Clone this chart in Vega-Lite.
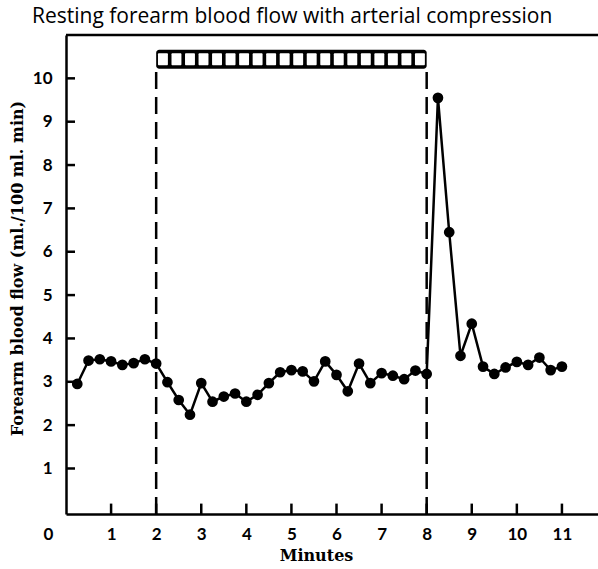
{
  "$schema": "https://vega.github.io/schema/vega-lite/v6.json",
  "width": 532,
  "height": 479,
  "autosize": "none",
  "padding": {"left": 66, "top": 35, "right": 0, "bottom": 55},
  "title": {"text": "Resting forearm blood flow with arterial compression", "anchor": "start", "frame": "group", "dx": -34, "offset": 7, "font": "Open Sans", "fontSize": 21, "fontWeight": "normal", "color": "black"},
  "config": {
    "view": {"stroke": null},
    "axis": {"domainColor": "black", "domainWidth": 2.5, "ticks": false, "grid": false, "labelFont": "Lato", "labelFontSize": 17, "labelFontWeight": "bold", "labelColor": "black", "titleFont": "DejaVu Serif", "titleFontSize": 16, "titleFontWeight": "bold", "titleColor": "black"}
  },
  "datasets": {
    "flow": [
      {"minute": 0.25, "flow": 2.95}, {"minute": 0.5, "flow": 3.49}, {"minute": 0.75, "flow": 3.52}, {"minute": 1.0, "flow": 3.47},
      {"minute": 1.25, "flow": 3.39}, {"minute": 1.5, "flow": 3.43}, {"minute": 1.75, "flow": 3.52}, {"minute": 2.0, "flow": 3.42},
      {"minute": 2.25, "flow": 2.99}, {"minute": 2.5, "flow": 2.58}, {"minute": 2.75, "flow": 2.24}, {"minute": 3.0, "flow": 2.97},
      {"minute": 3.25, "flow": 2.54}, {"minute": 3.5, "flow": 2.66}, {"minute": 3.75, "flow": 2.73}, {"minute": 4.0, "flow": 2.54},
      {"minute": 4.25, "flow": 2.70}, {"minute": 4.5, "flow": 2.97}, {"minute": 4.75, "flow": 3.22}, {"minute": 5.0, "flow": 3.27},
      {"minute": 5.25, "flow": 3.24}, {"minute": 5.5, "flow": 3.01}, {"minute": 5.75, "flow": 3.47}, {"minute": 6.0, "flow": 3.16},
      {"minute": 6.25, "flow": 2.78}, {"minute": 6.5, "flow": 3.42}, {"minute": 6.75, "flow": 2.97}, {"minute": 7.0, "flow": 3.20},
      {"minute": 7.25, "flow": 3.14}, {"minute": 7.5, "flow": 3.06}, {"minute": 7.75, "flow": 3.26}, {"minute": 8.0, "flow": 3.18},
      {"minute": 8.25, "flow": 9.55}, {"minute": 8.5, "flow": 6.45}, {"minute": 8.75, "flow": 3.60}, {"minute": 9.0, "flow": 4.34},
      {"minute": 9.25, "flow": 3.35}, {"minute": 9.5, "flow": 3.18}, {"minute": 9.75, "flow": 3.33}, {"minute": 10.0, "flow": 3.46},
      {"minute": 10.25, "flow": 3.39}, {"minute": 10.5, "flow": 3.56}, {"minute": 10.75, "flow": 3.27}, {"minute": 11.0, "flow": 3.35}
    ],
    "cells": [
      {"s": 2.04, "e": 2.26}, {"s": 2.34, "e": 2.56}, {"s": 2.64, "e": 2.86}, {"s": 2.94, "e": 3.16}, {"s": 3.24, "e": 3.46},
      {"s": 3.54, "e": 3.76}, {"s": 3.84, "e": 4.06}, {"s": 4.14, "e": 4.36}, {"s": 4.44, "e": 4.66}, {"s": 4.74, "e": 4.96},
      {"s": 5.04, "e": 5.26}, {"s": 5.34, "e": 5.56}, {"s": 5.64, "e": 5.86}, {"s": 5.94, "e": 6.16}, {"s": 6.24, "e": 6.46},
      {"s": 6.54, "e": 6.76}, {"s": 6.84, "e": 7.06}, {"s": 7.14, "e": 7.36}, {"s": 7.44, "e": 7.66}, {"s": 7.74, "e": 7.96}
    ],
    "occlusion": [{"m": 2, "start": 2, "end": 8}, {"m": 8, "start": 2, "end": 8}],
    "frame": [{"x0": 0, "x1": 11.8, "top": 11}],
    "xticks": [{"t": 1}, {"t": 2}, {"t": 3}, {"t": 4}, {"t": 5}, {"t": 6}, {"t": 7}, {"t": 8}, {"t": 9}, {"t": 10}, {"t": 11}],
    "yticks": [{"t": 1}, {"t": 2}, {"t": 3}, {"t": 4}, {"t": 5}, {"t": 6}, {"t": 7}, {"t": 8}, {"t": 9}, {"t": 10}]
  },
  "layer": [
    {
      "data": {"name": "flow"},
      "mark": {"type": "line", "color": "black", "strokeWidth": 2.5},
      "encoding": {
        "x": {"field": "minute", "type": "quantitative", "scale": {"domain": [0, 11.8], "nice": false, "zero": false},
          "axis": {"title": "Minutes", "values": [0, 1, 2, 3, 4, 5, 6, 7, 8, 9, 10, 11], "labelPadding": 12, "labelFlush": false,
            "labelOffset": {"condition": {"test": "datum.value == 0", "value": -18}, "value": 0},
            "titleX": 250, "titleY": 41, "titleBaseline": "middle", "titleAlign": "center"}},
        "y": {"field": "flow", "type": "quantitative", "scale": {"domain": [-0.05, 11], "nice": false, "zero": false},
          "axis": {"title": "Forearm blood flow (ml./100 ml. min)", "values": [1, 2, 3, 4, 5, 6, 7, 8, 9, 10], "labelPadding": 14,
            "titleX": -49, "titleY": 233, "titleBaseline": "middle", "titleAlign": "center"}}
      }
    },
    {
      "data": {"name": "frame"},
      "mark": {"type": "rule", "color": "black", "strokeWidth": 2.5},
      "encoding": {
        "x": {"field": "x0", "type": "quantitative"},
        "x2": {"field": "x1"},
        "y": {"field": "top", "type": "quantitative"}
      }
    },
    {
      "data": {"name": "xticks"},
      "mark": {"type": "rule", "color": "black", "strokeWidth": 2.5},
      "encoding": {
        "x": {"field": "t", "type": "quantitative"},
        "y": {"datum": -0.05},
        "y2": {"datum": 0.19}
      }
    },
    {
      "data": {"name": "yticks"},
      "mark": {"type": "rule", "color": "black", "strokeWidth": 2.5},
      "encoding": {
        "y": {"field": "t", "type": "quantitative"},
        "x": {"datum": 0},
        "x2": {"datum": 0.2}
      }
    },
    {
      "data": {"name": "occlusion"},
      "mark": {"type": "rule", "color": "black", "strokeWidth": 2.5, "strokeDash": [17, 8]},
      "encoding": {
        "x": {"field": "m", "type": "quantitative"},
        "y": {"datum": -0.05},
        "y2": {"datum": 10.22}
      }
    },
    {
      "data": {"name": "occlusion"},
      "transform": [{"filter": "datum.m == 2"}],
      "mark": {"type": "rect", "color": "black", "cornerRadius": 3},
      "encoding": {
        "x": {"field": "start", "type": "quantitative"},
        "x2": {"field": "end"},
        "y": {"datum": 10.22},
        "y2": {"datum": 10.66}
      }
    },
    {
      "data": {"name": "cells"},
      "mark": {"type": "rect", "color": "white", "cornerRadius": 1},
      "encoding": {
        "x": {"field": "s", "type": "quantitative"},
        "x2": {"field": "e"},
        "y": {"datum": 10.3},
        "y2": {"datum": 10.58}
      }
    },
    {
      "data": {"name": "flow"},
      "mark": {"type": "point", "filled": true, "color": "black", "opacity": 1, "size": 115},
      "encoding": {
        "x": {"field": "minute", "type": "quantitative"},
        "y": {"field": "flow", "type": "quantitative"}
      }
    }
  ]
}
